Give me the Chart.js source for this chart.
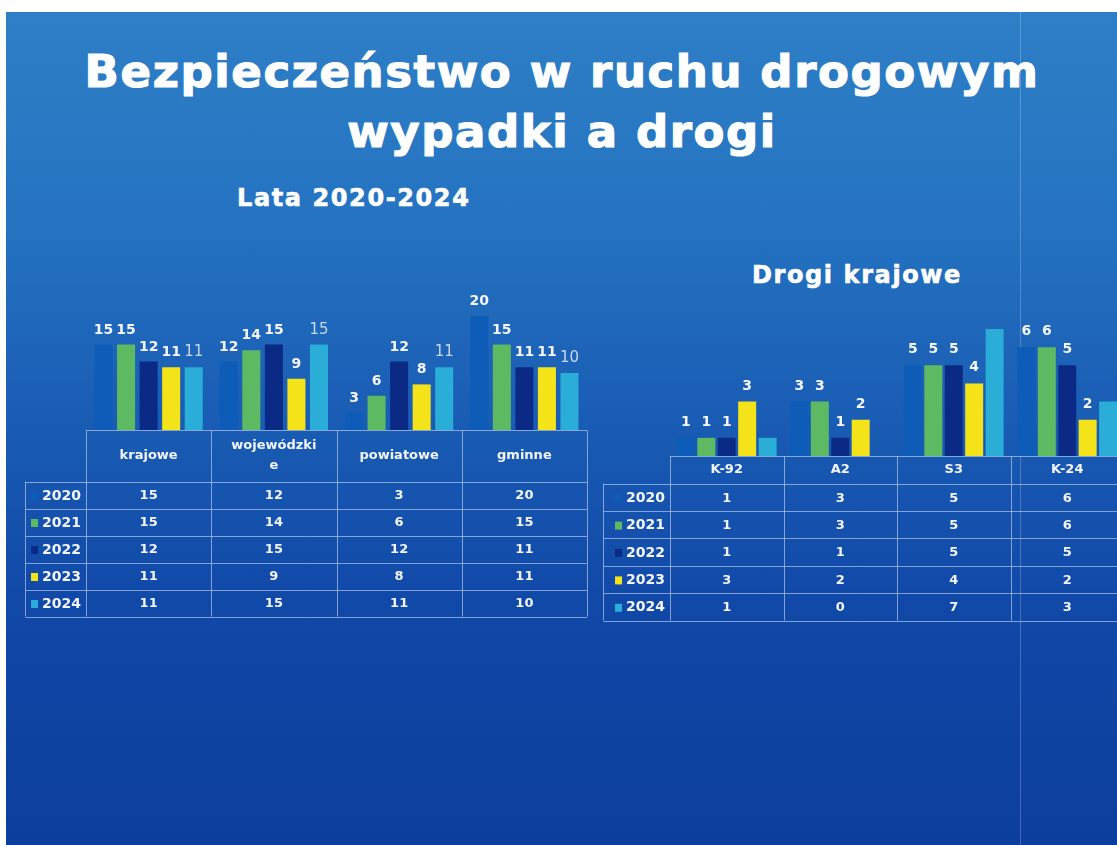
<!DOCTYPE html>
<html lang="pl">
<head>
<meta charset="utf-8">
<title>Bezpieczeństwo w ruchu drogowym</title>
<script src="https://cdn.jsdelivr.net/npm/chart.js@4.4.1/dist/chart.umd.min.js"></script>
<style>
  html, body { margin: 0; padding: 0; background: #fff; }
  body { width: 1117px; height: 845px; position: relative; overflow: hidden; font-family: "DejaVu Sans", sans-serif; }
  #slide {
    position: absolute; left: 6px; top: 12px; right: 0; bottom: 0;
    background: linear-gradient(180deg, #2d7fc6 0%, #2573c1 25%, #1b60b6 45%, #1149a8 70%, #0c3e9d 100%);
  }
  .txt { position: absolute; color: #fff; font-weight: bold; white-space: nowrap; }
  #t1 { left: 0; width: 1124px; text-align: center; top: 42px; font-size: 45px; letter-spacing: 1.6px; line-height: 60px; -webkit-text-stroke: 1.2px #fff; }
  #sub1 { left: 237px; top: 184px; font-size: 24px; letter-spacing: 1.6px; -webkit-text-stroke: 0.6px #fff; }
  #sub2 { left: 752px; top: 261px; font-size: 24px; letter-spacing: 1.6px; -webkit-text-stroke: 0.6px #fff; }
  .box { position: absolute; }
  #vline { position: absolute; left: 1020px; top: 12px; width: 1px; bottom: 0; background: rgba(255,255,255,0.22); }
</style>
</head>
<body>
<div id="slide"></div>
<div id="vline"></div>
<div class="txt" id="t1">Bezpieczeństwo w ruchu drogowym<br>wypadki a drogi</div>
<div class="txt" id="sub1">Lata 2020-2024</div>
<div class="txt" id="sub2">Drogi krajowe</div>
<div class="box" style="left:0;top:280px;width:600px;height:345px"><canvas id="chartAll" width="600" height="345"></canvas></div>
<div class="box" style="left:600px;top:290px;width:540px;height:340px"><canvas id="chartRoads" width="540" height="340"></canvas></div>
<script>
// data: all roads by type, 2020-2024
const years = ['2020', '2021', '2022', '2023', '2024'];
const roadTypes = ['krajowe', ['wojewódzki', 'e'], 'powiatowe', 'gminne'];
const types2020 = [15, 12, 3, 20];
const types2021 = [15, 14, 6, 15];
const types2022 = [12, 15, 12, 11];
const types2023 = [11, 9, 8, 11];
const types2024 = [11, 15, 11, 10];

// data: national roads
const nationalRoads = ['K-92', 'A2', 'S3', 'K-24'];
const roads2020 = [1, 3, 5, 6];
const roads2021 = [1, 3, 5, 6];
const roads2022 = [1, 1, 5, 5];
const roads2023 = [3, 2, 4, 2];
const roads2024 = [1, 0, 7, 3];

const yearColors = ['#0d5cb8', '#5dba63', '#0b2a86', '#f5e31a', '#2aaed8'];
const lineColor = 'rgba(205,220,245,0.6)';

const boldLabel = { font: 'bold 14px "DejaVu Sans"', color: '#f4f6fb', hidden: false };

// value labels above the bars
const barLabels = {
  id: 'barLabels',
  afterDatasetsDraw(chart, args, opts) {
    const ctx = chart.ctx;
    ctx.save();
    ctx.textAlign = 'center';
    ctx.textBaseline = 'alphabetic';
    chart.data.datasets.forEach((ds, di) => {
      const st = opts.styles[di];
      if (!st || st.hidden) return;
      ctx.font = st.font;
      ctx.fillStyle = st.color;
      chart.getDatasetMeta(di).data.forEach((bar, i) => {
        ctx.fillText(String(ds.data[i]), bar.x, bar.y - opts.gap);
      });
    });
    ctx.restore();
  }
};

// data table under the plot, columns follow the category scale
const dataTable = {
  id: 'dataTable',
  afterDraw(chart, args, opts) {
    const { ctx, chartArea: ca, scales: { x } } = chart;
    const labels = chart.data.labels;
    const n = labels.length;
    const cw = ca.width / n;
    const top = Math.round(ca.bottom) + 0.5;
    const headBottom = top + opts.headerH;
    const rows = chart.data.datasets.length;
    const bottom = headBottom + opts.rowH * rows;
    const L = opts.legendLeft + 0.5;

    ctx.save();
    ctx.strokeStyle = lineColor;
    ctx.lineWidth = 1;
    ctx.beginPath();
    ctx.moveTo(ca.left, top); ctx.lineTo(ca.right, top);
    for (let i = 0; i <= n; i++) {
      const xx = Math.round(ca.left + i * cw) + 0.5;
      ctx.moveTo(xx, top); ctx.lineTo(xx, bottom);
    }
    ctx.moveTo(L, headBottom); ctx.lineTo(L, bottom);
    for (let r = 0; r <= rows; r++) {
      const yy = Math.round(headBottom + r * opts.rowH) + 0.5;
      ctx.moveTo(L, yy); ctx.lineTo(ca.right, yy);
    }
    ctx.stroke();

    // header
    ctx.fillStyle = '#f2f5fb';
    ctx.textAlign = 'center';
    ctx.textBaseline = 'middle';
    ctx.font = opts.headFont;
    labels.forEach((lab, i) => {
      const lines = Array.isArray(lab) ? lab : [lab];
      const cx = x.getPixelForValue(i);
      const cy = top + opts.headerH / 2;
      lines.forEach((t, k) => {
        ctx.fillText(t, cx, cy + (k - (lines.length - 1) / 2) * opts.headLineH);
      });
    });

    // rows
    chart.data.datasets.forEach((ds, r) => {
      const cy = headBottom + opts.rowH * (r + 0.5) + 1;
      ctx.font = opts.yearFont;
      ctx.textAlign = 'right';
      ctx.fillStyle = '#f2f5fb';
      const tx = ca.left - 5;
      ctx.fillText(ds.label, tx, cy);
      const tw = ctx.measureText(ds.label).width;
      ctx.fillStyle = ds.backgroundColor;
      ctx.fillRect(tx - tw - 11, cy - 4, 7, 8);
      ctx.fillStyle = '#f2f5fb';
      ctx.textAlign = 'center';
      ctx.font = opts.valFont;
      ds.data.forEach((v, i) => ctx.fillText(String(v), x.getPixelForValue(i), cy));
    });
    ctx.restore();
  }
};

function makeDatasets(series) {
  return series.map((data, i) => ({
    label: years[i],
    data: data,
    backgroundColor: yearColors[i],
    borderWidth: 0
  }));
}

new Chart(document.getElementById('chartAll'), {
  type: 'bar',
  data: {
    labels: roadTypes,
    datasets: makeDatasets([types2020, types2021, types2022, types2023, types2024])
  },
  options: {
    responsive: false,
    animation: false,
    devicePixelRatio: 1,
    layout: { padding: { left: 86, right: 13, top: 36, bottom: 195 } },
    categoryPercentage: 0.9,
    barPercentage: 0.8,
    scales: {
      x: { display: false },
      y: { display: false, min: 0, max: 20 }
    },
    plugins: {
      legend: { display: false },
      tooltip: { enabled: false },
      barLabels: {
        gap: 11,
        styles: [boldLabel, boldLabel, boldLabel, boldLabel,
          { font: '15px "DejaVu Sans"', color: '#c6d8ee', hidden: false }]
      },
      dataTable: {
        headerH: 51, rowH: 27, legendLeft: 25, headLineH: 20,
        headFont: 'bold 13px "DejaVu Sans"',
        yearFont: 'bold 14px "DejaVu Sans"',
        valFont: 'bold 13px "DejaVu Sans"'
      }
    }
  },
  plugins: [barLabels, dataTable]
});

new Chart(document.getElementById('chartRoads'), {
  type: 'bar',
  data: {
    labels: nationalRoads,
    datasets: makeDatasets([roads2020, roads2021, roads2022, roads2023, roads2024])
  },
  options: {
    responsive: false,
    animation: false,
    devicePixelRatio: 1,
    layout: { padding: { left: 70, right: 16, top: 39, bottom: 174 } },
    categoryPercentage: 0.9,
    barPercentage: 0.88,
    scales: {
      x: { display: false },
      y: { display: false, min: 0, max: 7 }
    },
    plugins: {
      legend: { display: false },
      tooltip: { enabled: false },
      barLabels: {
        gap: 12,
        styles: [boldLabel, boldLabel, boldLabel, boldLabel,
          { font: 'bold 14px "DejaVu Sans"', color: '#f4f6fb', hidden: true }]
      },
      dataTable: {
        headerH: 27, rowH: 27.4, legendLeft: 3, headLineH: 18,
        headFont: 'bold 13px "DejaVu Sans"',
        yearFont: 'bold 14px "DejaVu Sans"',
        valFont: 'bold 13px "DejaVu Sans"'
      }
    }
  },
  plugins: [barLabels, dataTable]
});
</script>
</body>
</html>
